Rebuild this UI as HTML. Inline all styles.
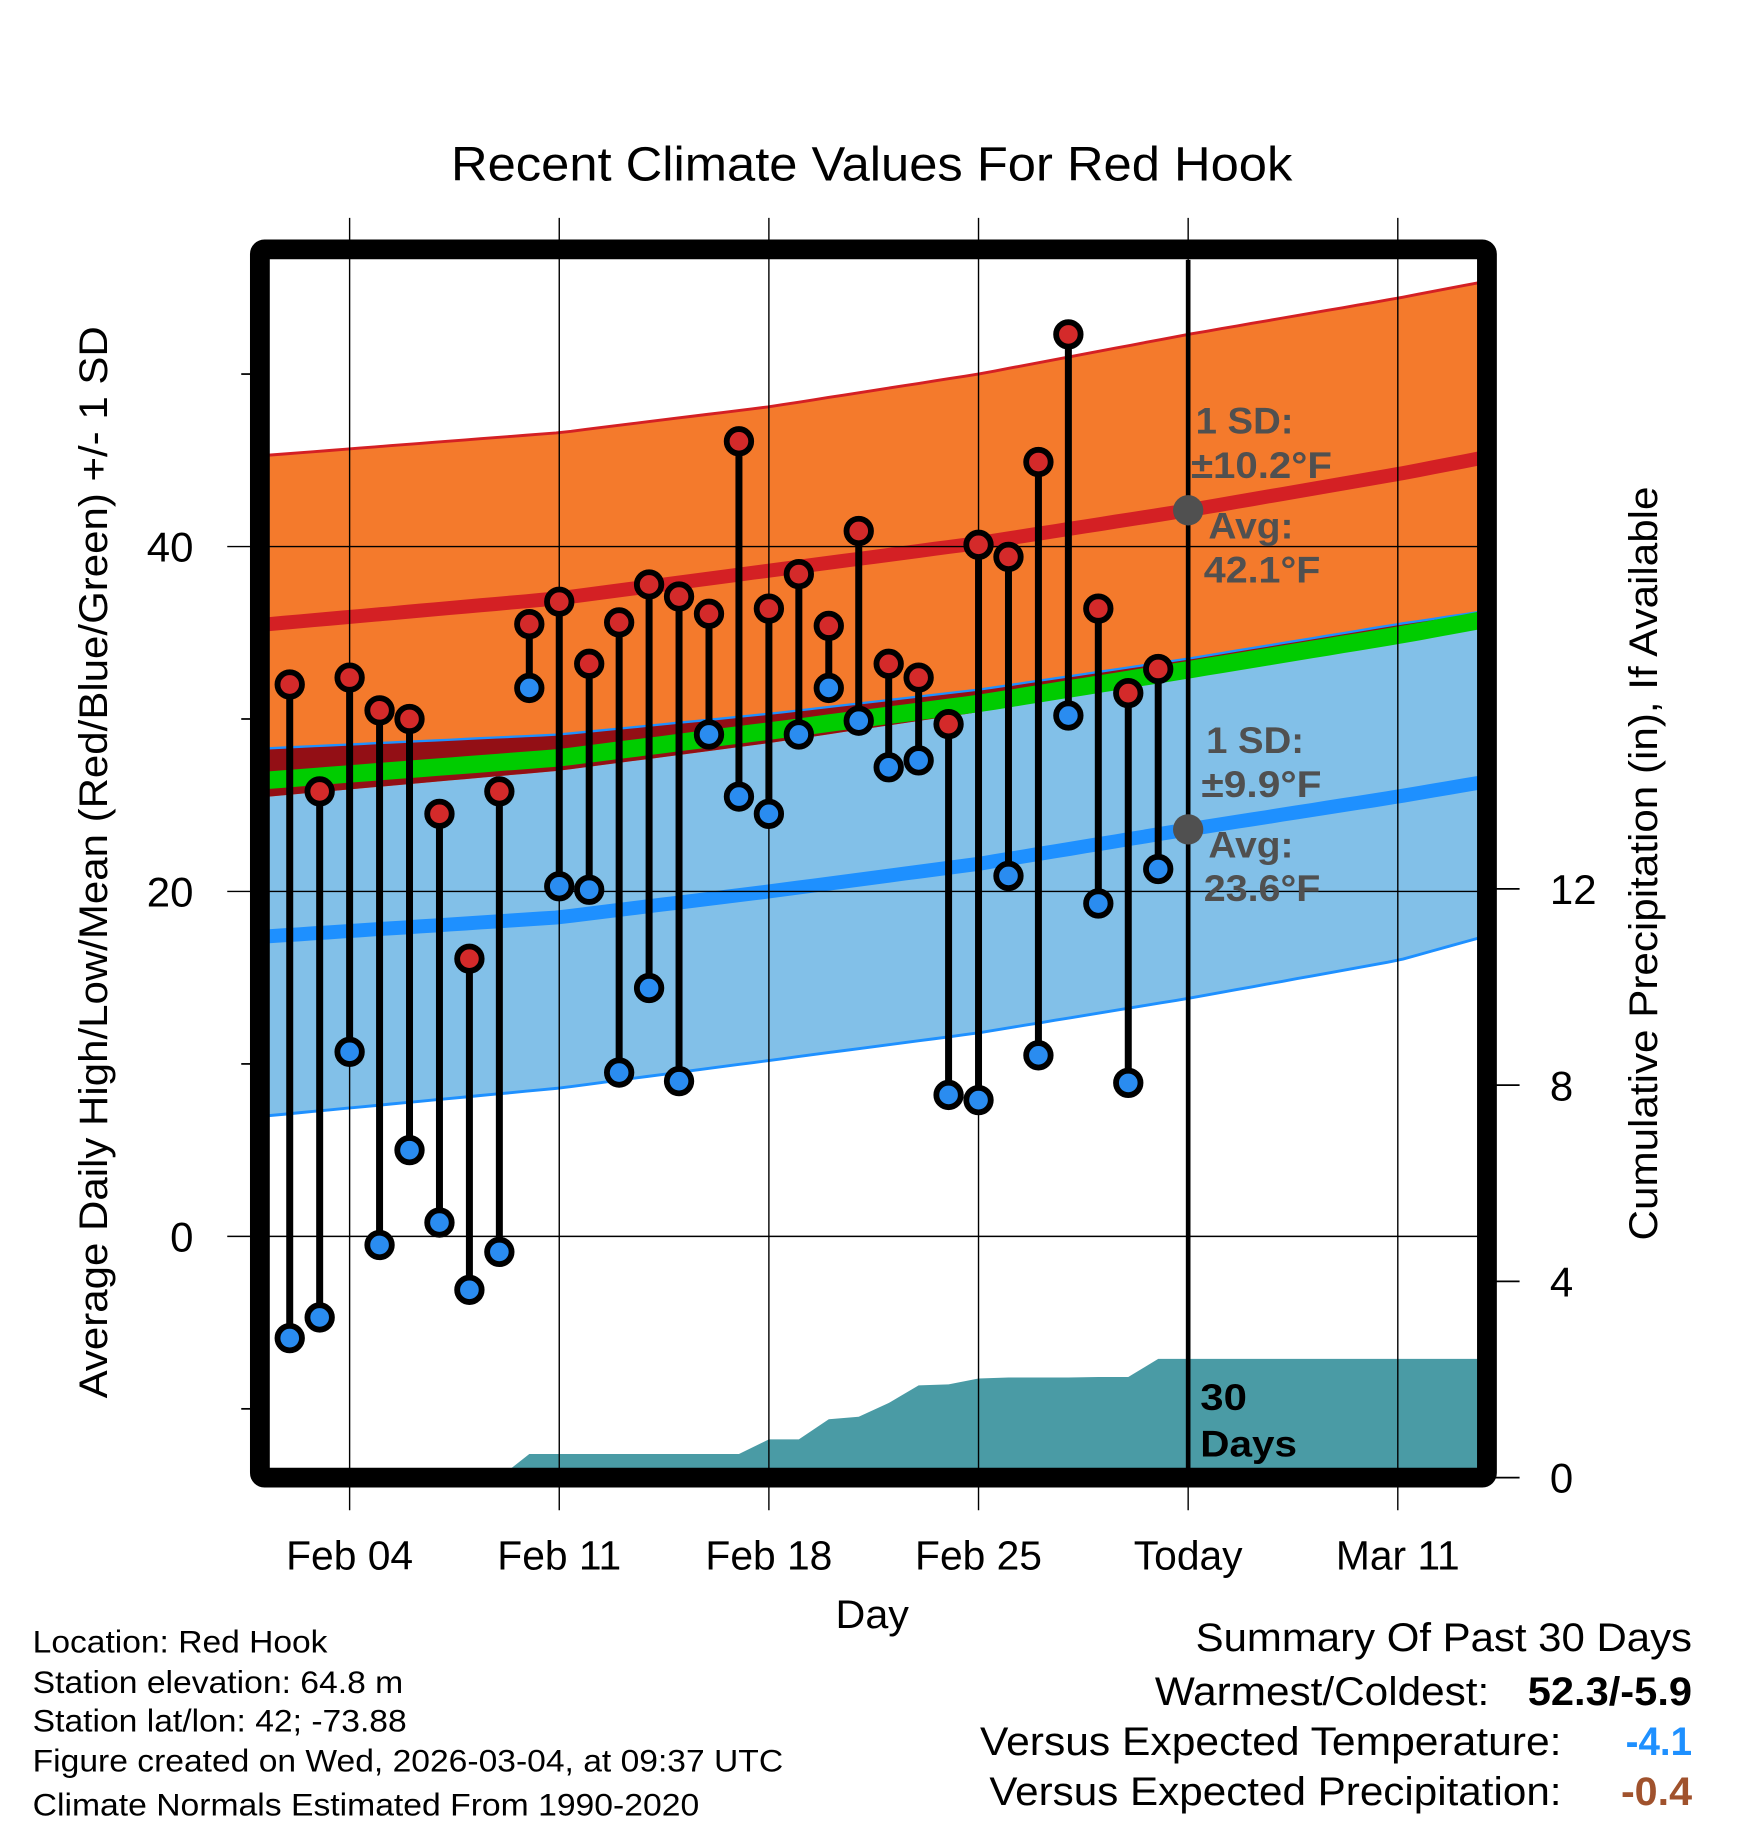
<!DOCTYPE html>
<html><head><meta charset="utf-8">
<style>
html,body{margin:0;padding:0;background:#fff;}
svg{display:block;}
text{font-family:"Liberation Sans",Arial,sans-serif;}
</style></head>
<body>
<svg id="chart" xmlns="http://www.w3.org/2000/svg" width="1748" height="1828" viewBox="0 0 1500 1568.7">
<rect x="0" y="0" width="1500" height="1568.7" fill="#fff"/>
<g id="plot"></g>
<text x="387" y="155" font-size="41" textLength="722" lengthAdjust="spacingAndGlyphs">Recent Climate Values For Red Hook</text>
<text transform="translate(92,740) rotate(-90)" font-size="34" text-anchor="middle" textLength="920" lengthAdjust="spacingAndGlyphs">Average Daily High/Low/Mean (Red/Blue/Green) +/- 1 SD</text>
<text transform="translate(1422,741) rotate(-90)" font-size="34" text-anchor="middle" textLength="647" lengthAdjust="spacingAndGlyphs">Cumulative Precipitation (in), If Available</text>
<text x="717" y="1397" font-size="34" textLength="63" lengthAdjust="spacingAndGlyphs">Day</text>
<g font-size="27">
<text x="28" y="1418" textLength="253" lengthAdjust="spacingAndGlyphs">Location: Red Hook</text>
<text x="28" y="1453" textLength="318" lengthAdjust="spacingAndGlyphs">Station elevation: 64.8 m</text>
<text x="28" y="1486" textLength="321" lengthAdjust="spacingAndGlyphs">Station lat/lon: 42; -73.88</text>
<text x="28" y="1520" textLength="644" lengthAdjust="spacingAndGlyphs">Figure created on Wed, 2026-03-04, at 09:37 UTC</text>
<text x="28" y="1558" textLength="572" lengthAdjust="spacingAndGlyphs">Climate Normals Estimated From 1990-2020</text>
</g>
<g font-size="34">
<text x="1026" y="1417" textLength="426" lengthAdjust="spacingAndGlyphs">Summary Of Past 30 Days</text>
<text x="991" y="1463" textLength="287" lengthAdjust="spacingAndGlyphs">Warmest/Coldest:</text>
<text x="1311" y="1463" font-weight="bold" textLength="141" lengthAdjust="spacingAndGlyphs">52.3/-5.9</text>
<text x="841" y="1506" textLength="499" lengthAdjust="spacingAndGlyphs">Versus Expected Temperature:</text>
<text x="1395" y="1506" font-weight="bold" fill="#1e90ff" textLength="57" lengthAdjust="spacingAndGlyphs">-4.1</text>
<text x="849" y="1549" textLength="491" lengthAdjust="spacingAndGlyphs">Versus Expected Precipitation:</text>
<text x="1391" y="1549" font-weight="bold" fill="#a0522d" textLength="61" lengthAdjust="spacingAndGlyphs">-0.4</text>
</g>
</svg>
<script>
// Daily observations, days since Jan 31 (Feb 2 = 2)
const obsDays = [2,3,4,5,6,7,8,9,10,11,12,13,14,15,16,17,18,19,20,21,22,23,24,25,26,27,28,29,30,31];
const highs = [32.0,25.8,32.4,30.5,30.0,24.5,16.1,25.8,35.5,36.8,33.2,35.6,37.8,37.1,36.1,46.1,36.4,38.4,35.4,40.9,33.2,32.4,29.7,40.1,39.4,44.9,52.3,36.4,31.5,32.9];
const lows = [-5.9,-4.7,10.7,-0.5,5.0,0.8,-3.1,-0.9,31.8,20.3,20.1,9.5,14.4,9.0,29.1,25.5,24.5,29.1,31.8,29.9,27.2,27.6,8.2,7.9,20.9,10.5,30.2,19.3,8.9,21.3];
const precipCum = [0,0,0,0,0,0,0,0,0.48,0.48,0.48,0.48,0.48,0.48,0.48,0.48,0.78,0.78,1.19,1.24,1.52,1.88,1.90,2.02,2.04,2.04,2.04,2.05,2.05,2.42];
// Climate normals sampled at these days
const normDays = [1.3,11,18,25,32,39,41.7];
const highMean = [35.5,37.0,38.6,40.2,42.1,44.2,45.1];
const highUpper = [45.3,46.6,48.1,50.0,52.3,54.4,55.3];
const highLower = [25.5,27.0,28.6,30.4,32.9,35.0,35.9];
const lowMean = [17.4,18.5,20.0,21.6,23.6,25.5,26.3];
const lowUpper = [28.3,29.1,30.3,31.7,33.5,35.5,36.2];
const lowLower = [7.0,8.6,10.2,11.8,13.8,16.0,17.3];
const tempTicks = [0,20,40];
const tempMinor = [-10,10,30,50];
const precipTicks = [0,4,8,12];
const xTickDays = [4,11,18,25,32,39];
const xTickLabels = ["Feb 04","Feb 11","Feb 18","Feb 25","Today","Mar 11"];
const todayDay = 32;

const NS="http://www.w3.org/2000/svg";
const L=231,R=1268,T=223,B=1260;
const xS=d=>300+(d-4)*25.7;
const yT=v=>1061-14.8*v;
const yP=v=>1268-42.1*v;
const g=document.getElementById('plot');
function el(tag,attrs,parent){const e=document.createElementNS(NS,tag);for(const k in attrs)e.setAttribute(k,attrs[k]);(parent||g).appendChild(e);return e;}
function interp(arr,d){for(let i=0;i<normDays.length-1;i++){if(d<=normDays[i+1]||i==normDays.length-2){const t=(d-normDays[i])/(normDays[i+1]-normDays[i]);return arr[i]+(arr[i+1]-arr[i])*t;}}}
const samp=[];for(let i=0;i<=80;i++){samp.push(normDays[0]+(normDays[normDays.length-1]-normDays[0])*i/80);}
function linePts(arr){return samp.map(d=>xS(d).toFixed(1)+','+yT(interp(arr,d)).toFixed(1)).join(' ');}
function bandPts(up,lo){return samp.map(d=>xS(d).toFixed(1)+','+yT(interp(up,d)).toFixed(1)).concat(samp.slice().reverse().map(d=>xS(d).toFixed(1)+','+yT(interp(lo,d)).toFixed(1))).join(' ');}

let e;
e=el('clipPath',{id:'clip'});el('rect',{x:L,y:T,width:R-L,height:B-T},e);
const clip=el('g',{'clip-path':'url(#clip)'});
e=el('polygon',{points:bandPts(lowUpper,lowLower),fill:'#82c0e8'},clip);

e=el('polygon',{points:bandPts(highUpper,highLower),fill:'#f47a2c'},clip);

const ovUp=samp.map(d=>Math.min(interp(lowUpper,d),interp(highUpper,d)));
const ovLo=samp.map(d=>Math.max(interp(highLower,d),interp(lowLower,d)));
const ovPts=samp.map((d,i)=>xS(d).toFixed(1)+','+yT(Math.max(ovUp[i],ovLo[i])).toFixed(1)).concat(samp.map((d,i)=>xS(d).toFixed(1)+','+yT(ovLo[i]).toFixed(1)).reverse()).join(' ');
e=el('polygon',{points:ovPts,fill:'#930f15'},clip);

e=el('polyline',{points:linePts(lowUpper),fill:'none',stroke:'#1e90ff','stroke-width':2},clip);

e=el('polyline',{points:linePts(lowLower),fill:'none',stroke:'#1e90ff','stroke-width':2.5},clip);

e=el('polyline',{points:linePts(highUpper),fill:'none',stroke:'#d42024','stroke-width':2.5},clip);

const meanArr=highMean.map((v,i)=>(v+lowMean[i])/2);
e=el('polyline',{points:linePts(meanArr),fill:'none',stroke:'#00cc00','stroke-width':15},clip);

e=el('polyline',{points:linePts(highMean),fill:'none',stroke:'#d42024','stroke-width':12},clip);

e=el('polyline',{points:linePts(lowMean),fill:'none',stroke:'#1e90ff','stroke-width':12},clip);

let pp=[xS(obsDays[0])+','+yP(0)];
obsDays.forEach((d,i)=>pp.push(xS(d)+','+yP(precipCum[i])));
pp.push(R+','+yP(precipCum[precipCum.length-1]));pp.push(R+','+yP(0));
e=el('polygon',{points:pp.join(' '),fill:'#4a9ba5'},clip);


xTickDays.forEach((d,i)=>{
  e=el('line',{x1:xS(d),x2:xS(d),y1:187,y2:1296,stroke:'#000','stroke-width':1.2});
  
  e=el('text',{x:xS(d),y:1347,'font-size':35,'text-anchor':'middle'});e.textContent=xTickLabels[i];
  
});
tempTicks.forEach(v=>{
  e=el('line',{x1:195,x2:R,y1:yT(v),y2:yT(v),stroke:'#000','stroke-width':1.2});
  
  e=el('text',{x:166,y:yT(v)+13,'font-size':36,'text-anchor':'end'});e.textContent=v;
  
});
tempMinor.forEach(v=>{
  e=el('line',{x1:207,x2:220,y1:yT(v),y2:yT(v),stroke:'#000','stroke-width':1.5});
  
});
precipTicks.forEach(v=>{
  e=el('line',{x1:1280,x2:1304,y1:yP(v),y2:yP(v),stroke:'#000','stroke-width':1.5});
  
  e=el('text',{x:1330,y:yP(v)+13,'font-size':36});e.textContent=v;
  
});
e=el('line',{x1:xS(todayDay),x2:xS(todayDay),y1:T,y2:B,stroke:'#000','stroke-width':4});


obsDays.forEach((d,i)=>{
  const x=xS(d);
  e=el('line',{x1:x,x2:x,y1:yT(highs[i]),y2:yT(lows[i]),stroke:'#000','stroke-width':6});
  
});
obsDays.forEach((d,i)=>{
  const x=xS(d);
  e=el('circle',{cx:x,cy:yT(highs[i]),r:10.5,fill:'#d42a2a',stroke:'#000','stroke-width':5});
  
  e=el('circle',{cx:x,cy:yT(lows[i]),r:10.5,fill:'#2a8cf0',stroke:'#000','stroke-width':5});
  
});
const tx=xS(todayDay);
e=el('circle',{cx:tx,cy:yT(interp(highMean,todayDay)),r:13,fill:'#505050'});

e=el('circle',{cx:tx,cy:yT(interp(lowMean,todayDay)),r:13,fill:'#505050'});

const ann=[["1 SD:",1026,372,84,'high-sd-label'],["±10.2°F",1022,410,121,'high-sd-value'],["Avg:",1037,462,73,'high-avg-label'],["42.1°F",1033,500,100,'high-avg-value'],["1 SD:",1035,646,84,'low-sd-label'],["±9.9°F",1031,684,103,'low-sd-value'],["Avg:",1037,736,73,'low-avg-label'],["23.6°F",1033,773,100,'low-avg-value']];
ann.forEach(a=>{e=el('text',{x:a[1],y:a[2],'font-size':32,'font-weight':'bold',fill:'#505050',textLength:a[3],lengthAdjust:'spacingAndGlyphs'});e.textContent=a[0];
  });
e=el('text',{x:1030,y:1210,'font-size':32,'font-weight':'bold',textLength:40,lengthAdjust:'spacingAndGlyphs'});e.textContent='30';

e=el('text',{x:1030,y:1250,'font-size':32,'font-weight':'bold',textLength:83,lengthAdjust:'spacingAndGlyphs'});e.textContent='Days';

e=el('rect',{x:223,y:214,width:1053,height:1054,fill:'none',stroke:'#000','stroke-width':17,rx:4});

</script>
</body></html>
